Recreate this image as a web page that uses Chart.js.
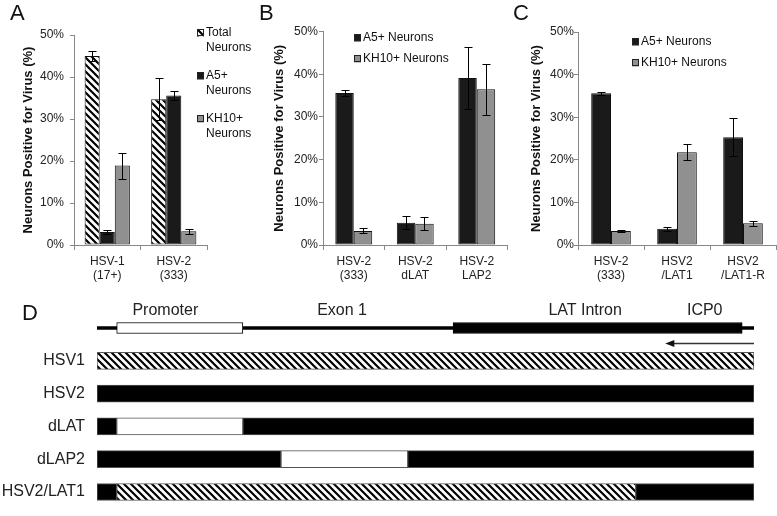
<!DOCTYPE html>
<html>
<head>
<meta charset="utf-8">
<script src="https://cdn.jsdelivr.net/npm/chart.js@4.4.1/dist/chart.umd.min.js"></script>
<style>
  html, body { margin: 0; padding: 0; width: 777px; height: 516px; overflow: hidden; background: #fff; }
  canvas { position: absolute; }
  .panel { position: absolute; font: 22px 'Liberation Sans', Arial, sans-serif; line-height: 22px; color: #111; }
</style>
</head>
<body>
<canvas id="chart-a" width="262" height="300" style="left:0;top:0"></canvas>
<canvas id="chart-b" width="254" height="300" style="left:258px;top:0"></canvas>
<canvas id="chart-c" width="267" height="300" style="left:510px;top:0"></canvas>
<canvas id="chart-d" width="777" height="240" style="left:0;top:290px"></canvas>
<div class="panel" style="left:10px;top:2px">A</div>
<div class="panel" style="left:259px;top:2px">B</div>
<div class="panel" style="left:513px;top:2px">C</div>
<div class="panel" style="left:22px;top:302px">D</div>
<script>
const FONT = "'Liberation Sans', Arial, sans-serif";

// panel A
const groupsA = [['HSV-1', '(17+)'], ['HSV-2', '(333)']];
const seriesA = [['Total', 'Neurons'], ['A5+', 'Neurons'], ['KH10+', 'Neurons']];
const totalA = [45.0, 34.7];
const totalErrA = [1.3, 5.0];
const a5A = [3.1, 35.6];
const a5ErrA = [0.5, 1.0];
const kh10A = [18.9, 3.3];
const kh10ErrA = [3.1, 0.6];

// panel B
const groupsB = [['HSV-2', '(333)'], ['HSV-2', 'dLAT'], ['HSV-2', 'LAP2']];
const a5B = [35.6, 5.2, 39.1];
const a5ErrB = [0.8, 1.5, 7.2];
const kh10B = [3.3, 5.0, 36.5];
const kh10ErrB = [0.6, 1.6, 6.0];

// panel C
const groupsC = [['HSV-2', '(333)'], ['HSV2', '/LAT1'], ['HSV2', '/LAT1-R']];
const a5C = [35.6, 3.8, 25.3];
const a5ErrC = [0.3, 0.4, 4.4];
const kh10C = [3.3, 21.8, 5.1];
const kh10ErrC = [0.2, 1.9, 0.6];

// panel D, positions along the LAT region (0-100)
const mapRows = ['', 'HSV1', 'HSV2', 'dLAT', 'dLAP2', 'HSV2/LAT1'];
const backbone = [0, 100];
const promoter = [3.0, 22.2];
const latIntron = [54.2, 98.2];
const icp0Arrow = [100, 86.5];
const mapLabels = ['Promoter', 'Exon 1', 'LAT Intron', 'ICP0'];
const mapLabelAt = [10.4, 37.3, 74.3, 92.5];
const hsv1Parts = [[0, 100, 'HSV-1']];
const hsv2Parts = [[0, 100, 'HSV-2']];
const dLatParts = [[0, 3.0, 'HSV-2'], [3.0, 22.2, 'deleted'], [22.2, 100, 'HSV-2']];
const dLap2Parts = [[0, 28.0, 'HSV-2'], [28.0, 47.3, 'deleted'], [47.3, 100, 'HSV-2']];
const lat1Parts = [[0, 3.0, 'HSV-2'], [3.0, 82.0, 'HSV-1'], [82.0, 100, 'HSV-2']];

function makeHatch(size, width) {
  const c = document.createElement('canvas');
  c.width = size;
  c.height = size;
  const g = c.getContext('2d');
  g.fillStyle = '#fff';
  g.fillRect(0, 0, size, size);
  g.strokeStyle = '#000';
  g.lineWidth = width;
  g.beginPath();
  for (let k = -1; k <= 1; k++) {
    g.moveTo(k * size - 1, -1);
    g.lineTo(k * size + size + 1, size + 1);
  }
  g.stroke();
  return g.createPattern(c, 'repeat');
}

const hatch = makeHatch(7, 2.2);
const A5_COLOR = '#1a1a1a';
const KH10_COLOR = '#909090';

const errorBarPlugin = {
  id: 'errorBars',
  afterDatasetsDraw(chart) {
    const { ctx } = chart;
    const y = chart.scales.y;
    ctx.save();
    ctx.strokeStyle = '#000';
    ctx.lineWidth = 1;
    chart.data.datasets.forEach((ds, i) => {
      chart.getDatasetMeta(i).data.forEach((bar, j) => {
        const x = Math.round(bar.x) + 0.5;
        const top = Math.round(y.getPixelForValue(ds.data[j] + ds.errors[j])) + 0.5;
        const bottom = Math.round(y.getPixelForValue(ds.data[j] - ds.errors[j])) + 0.5;
        ctx.beginPath();
        ctx.moveTo(x, top);
        ctx.lineTo(x, bottom);
        ctx.moveTo(x - 4, top);
        ctx.lineTo(x + 4, top);
        ctx.moveTo(x - 4, bottom);
        ctx.lineTo(x + 4, bottom);
        ctx.stroke();
      });
    });
    ctx.restore();
  }
};

const sideLegendPlugin = {
  id: 'sideLegend',
  afterDraw(chart, args, opts) {
    const { ctx } = chart;
    ctx.save();
    ctx.font = `12px ${FONT}`;
    ctx.textBaseline = 'middle';
    ctx.fillStyle = '#111';
    chart.data.datasets.forEach((ds, i) => {
      const y0 = opts.top + i * opts.gap;
      ctx.fillStyle = ds.backgroundColor;
      ctx.fillRect(opts.x, y0 - 3.5, 7, 7);
      ctx.strokeStyle = '#222';
      ctx.lineWidth = 1;
      ctx.strokeRect(opts.x + 0.5, y0 - 3.5, 6, 6);
      ctx.fillStyle = '#111';
      ds.legendLines.forEach((line, k) => {
        ctx.fillText(line, opts.x + 9, y0 + k * 14.5);
      });
    });
    ctx.restore();
  }
};

function makeBarChart(id, groups, series, layout) {
  return new Chart(document.getElementById(id), {
    type: 'bar',
    data: {
      labels: groups,
      datasets: series.map((s) => ({
        label: s.lines.join(' '),
        legendLines: s.lines,
        data: s.values,
        errors: s.errors,
        backgroundColor: s.fill,
        borderColor: '#111',
        borderWidth: 1,
        borderSkipped: false,
        categoryPercentage: layout.catPct,
        barPercentage: 1
      }))
    },
    options: {
      responsive: false,
      animation: false,
      layout: { padding: { left: layout.padLeft, top: layout.padTop, right: layout.padRight, bottom: 0 } },
      plugins: {
        legend: { display: false },
        tooltip: { enabled: false },
        sideLegend: layout.legend
      },
      scales: {
        x: {
          grid: { offset: true, drawOnChartArea: false, tickLength: 5, color: '#888' },
          border: { color: '#888' },
          ticks: { font: { family: FONT, size: 12 }, color: '#222', padding: 4, maxRotation: 0, autoSkip: false },
          afterFit: (s) => { s.height = 300 - 245; }
        },
        y: {
          min: 0,
          max: 50,
          ticks: { stepSize: 10, callback: (v) => v + '%', font: { family: FONT, size: 12 }, color: '#222', padding: layout.tickPad },
          grid: { drawOnChartArea: false, tickLength: 4, color: '#888' },
          border: { color: '#888' },
          title: {
            display: true,
            text: 'Neurons Positive for Virus (%)',
            font: { family: FONT, size: 13, weight: 'bold' },
            color: '#111',
            padding: 4
          },
          afterFit: (s) => { s.width = layout.yWidth; }
        }
      }
    },
    plugins: [errorBarPlugin, sideLegendPlugin]
  });
}

makeBarChart('chart-a', groupsA, [
  { lines: seriesA[0], values: totalA, errors: totalErrA, fill: hatch },
  { lines: seriesA[1], values: a5A, errors: a5ErrA, fill: A5_COLOR },
  { lines: seriesA[2], values: kh10A, errors: kh10ErrA, fill: KH10_COLOR }
], { padLeft: 17, yWidth: 57, padRight: 55, padTop: 35, tickPad: 6, catPct: 0.68,
     legend: { x: 197, top: 33, gap: 43 } });

makeBarChart('chart-b', groupsB, [
  { lines: ['A5+ Neurons'], values: a5B, errors: a5ErrB, fill: A5_COLOR },
  { lines: ['KH10+ Neurons'], values: kh10B, errors: kh10ErrB, fill: KH10_COLOR }
], { padLeft: 10, yWidth: 55, padRight: 4.5, padTop: 31.5, tickPad: 1, catPct: 0.6,
     legend: { x: 96, top: 38, gap: 21 } });

makeBarChart('chart-c', groupsC, [
  { lines: ['A5+ Neurons'], values: a5C, errors: a5ErrC, fill: A5_COLOR },
  { lines: ['KH10+ Neurons'], values: kh10C, errors: kh10ErrC, fill: KH10_COLOR }
], { padLeft: 15, yWidth: 53, padRight: 1, padTop: 32, tickPad: 0, catPct: 0.6,
     legend: { x: 122, top: 42, gap: 21 } });

// panel D: LAT region map and constructs as floating horizontal bars
const partFill = { 'HSV-1': hatch, 'HSV-2': '#000', deleted: '#fff' };
const constructs = [null, hsv1Parts, hsv2Parts, dLatParts, dLap2Parts, lat1Parts];
const onlyMap = (range) => mapRows.map((r, i) => (i === 0 ? range : null));

const mapDatasets = [
  { data: onlyMap(promoter), backgroundColor: '#fff', borderColor: '#000', borderWidth: 1, barThickness: 11, order: 1 },
  { data: onlyMap(latIntron), backgroundColor: '#000', borderColor: '#000', borderWidth: 1, barThickness: 11, order: 1 },
  { data: onlyMap(backbone), backgroundColor: '#000', borderWidth: 0, barThickness: 3, order: 3 }
];
for (let k = 0; k < 3; k++) {
  mapDatasets.push({
    data: constructs.map((p) => (p && p[k] ? [p[k][0], p[k][1]] : null)),
    backgroundColor: constructs.map((p) => (p && p[k] ? partFill[p[k][2]] : 'transparent')),
    borderColor: '#555',
    borderWidth: 1,
    barThickness: 17,
    order: 2
  });
}
mapDatasets.forEach((ds) => {
  ds.grouped = false;
  ds.borderSkipped = false;
});

const mapNotesPlugin = {
  id: 'mapNotes',
  afterDatasetsDraw(chart) {
    const { ctx } = chart;
    const { x, y } = chart.scales;
    const yMap = y.getPixelForValue(0);
    ctx.save();
    ctx.font = `16px ${FONT}`;
    ctx.fillStyle = '#222';
    ctx.textAlign = 'center';
    ctx.textBaseline = 'middle';
    mapLabels.forEach((t, i) => ctx.fillText(t, x.getPixelForValue(mapLabelAt[i]), yMap - 17));
    const ay = Math.round(yMap + 14.5) + 0.5;
    const x0 = x.getPixelForValue(icp0Arrow[0]);
    const x1 = x.getPixelForValue(icp0Arrow[1]);
    ctx.strokeStyle = '#333';
    ctx.lineWidth = 1.5;
    ctx.beginPath();
    ctx.moveTo(x0, ay);
    ctx.lineTo(x1 + 6, ay);
    ctx.stroke();
    ctx.fillStyle = '#111';
    ctx.beginPath();
    ctx.moveTo(x1, ay);
    ctx.lineTo(x1 + 9, ay - 3.5);
    ctx.lineTo(x1 + 9, ay + 3.5);
    ctx.closePath();
    ctx.fill();
    ctx.restore();
  }
};

new Chart(document.getElementById('chart-d'), {
  type: 'bar',
  data: { labels: mapRows, datasets: mapDatasets },
  options: {
    indexAxis: 'y',
    responsive: false,
    animation: false,
    layout: { padding: { top: 18.5, bottom: 5.5, left: 0, right: 23 } },
    plugins: { legend: { display: false }, tooltip: { enabled: false } },
    scales: {
      x: { type: 'linear', min: 0, max: 100, display: false },
      y: {
        grid: { display: false, drawTicks: false },
        border: { display: false },
        ticks: { font: { family: FONT, size: 16 }, color: '#222', padding: 12 },
        afterFit: (s) => { s.width = 97; }
      }
    }
  },
  plugins: [mapNotesPlugin]
});
</script>
</body>
</html>
